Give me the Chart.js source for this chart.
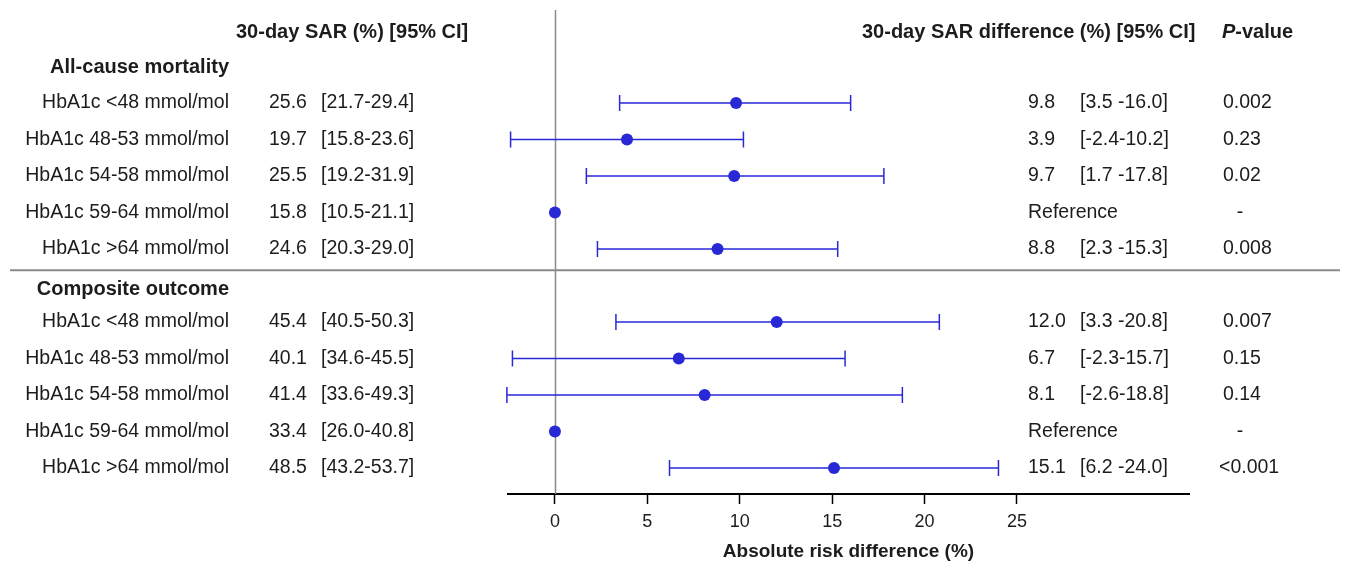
<!DOCTYPE html>
<html><head><meta charset="utf-8">
<script src="https://cdn.jsdelivr.net/npm/chart.js@4.4.1/dist/chart.umd.min.js"></script>
<style>html,body{margin:0;padding:0;background:#fff;overflow:hidden}#wrap{width:1351px;height:562px;position:relative}</style>
</head><body><div id="wrap"><canvas id="c" width="1351" height="562"></canvas></div>
<script>
const groupTitles = ['All-cause mortality', 'Composite outcome'];
const rowLabels = ['HbA1c <48 mmol/mol','HbA1c 48-53 mmol/mol','HbA1c 54-58 mmol/mol','HbA1c 59-64 mmol/mol','HbA1c >64 mmol/mol',
                   'HbA1c <48 mmol/mol','HbA1c 48-53 mmol/mol','HbA1c 54-58 mmol/mol','HbA1c 59-64 mmol/mol','HbA1c >64 mmol/mol'];
const sarText = ['25.6','19.7','25.5','15.8','24.6','45.4','40.1','41.4','33.4','48.5'];
const sarCI = ['[21.7-29.4]','[15.8-23.6]','[19.2-31.9]','[10.5-21.1]','[20.3-29.0]','[40.5-50.3]','[34.6-45.5]','[33.6-49.3]','[26.0-40.8]','[43.2-53.7]'];
const diffEst = [9.8, 3.9, 9.7, 0, 8.8, 12.0, 6.7, 8.1, 0, 15.1];
const diffLo = [3.5, -2.4, 1.7, null, 2.3, 3.3, -2.3, -2.6, null, 6.2];
const diffHi = [16.0, 10.2, 17.8, null, 15.3, 20.8, 15.7, 18.8, null, 24.0];
const diffText = ['9.8','3.9','9.7','Reference','8.8','12.0','6.7','8.1','Reference','15.1'];
const diffCI = ['[3.5 -16.0]','[-2.4-10.2]','[1.7 -17.8]','','[2.3 -15.3]','[3.3 -20.8]','[-2.3-15.7]','[-2.6-18.8]','','[6.2 -24.0]'];
const pValues = ['0.002','0.23','0.02','-','0.008','0.007','0.15','0.14','-','<0.001'];
const rowPos = [0, 1, 2, 3, 4, 6, 7, 8, 9, 10];
const groupPos = [-0.96, 5.12];
const xTicks = [0, 5, 10, 15, 20, 25];

const FAM = '"Liberation Sans", Arial, sans-serif';
const BLUE = 'rgb(40,40,215)';
const TXT = '#1c1c1c';
const GREY = '#8a8a8a';

const forestPlugin = {
  id: 'forest',
  beforeDatasetsDraw(chart) {
    const ctx = chart.ctx, xs = chart.scales.x, ys = chart.scales.y, ca = chart.chartArea;
    ctx.save();
    ctx.strokeStyle = GREY; ctx.lineWidth = 1.5;
    const x0 = Math.round(xs.getPixelForValue(0)) + 0.5;
    ctx.beginPath(); ctx.moveTo(x0, ca.top); ctx.lineTo(x0, ca.bottom); ctx.stroke();
    ctx.lineWidth = 2;
    const ySep = ys.getPixelForValue(4.58);
    ctx.beginPath(); ctx.moveTo(10, ySep); ctx.lineTo(1340, ySep); ctx.stroke();
    ctx.strokeStyle = BLUE; ctx.lineWidth = 1.5;
    for (let i = 0; i < diffEst.length; i++) {
      if (diffLo[i] === null) continue;
      const y = ys.getPixelForValue(rowPos[i]);
      const a = xs.getPixelForValue(diffLo[i]), b = xs.getPixelForValue(diffHi[i]);
      ctx.beginPath();
      ctx.moveTo(a, y); ctx.lineTo(b, y);
      ctx.moveTo(a, y - 8); ctx.lineTo(a, y + 8);
      ctx.moveTo(b, y - 8); ctx.lineTo(b, y + 8);
      ctx.stroke();
    }
    ctx.restore();
  },
  afterDraw(chart) {
    const ctx = chart.ctx, ys = chart.scales.y;
    ctx.save();
    ctx.fillStyle = TXT;
    ctx.textBaseline = 'middle';
    const yHead = ys.getPixelForValue(-1.92);
    ctx.font = 'bold 20px ' + FAM;
    ctx.textAlign = 'left';
    ctx.fillText('30-day SAR (%) [95% CI]', 236, yHead);
    ctx.fillText('30-day SAR difference (%) [95% CI]', 862, yHead);
    ctx.font = 'italic bold 20px ' + FAM;
    ctx.fillText('P', 1222, yHead);
    const pw = ctx.measureText('P').width;
    ctx.font = 'bold 20px ' + FAM;
    ctx.fillText('-value', 1222 + pw, yHead);
    ctx.textAlign = 'right';
    groupTitles.forEach((t, g) => ctx.fillText(t, 229, ys.getPixelForValue(groupPos[g])));
    ctx.font = '19.5px ' + FAM;
    for (let i = 0; i < rowLabels.length; i++) {
      const y = ys.getPixelForValue(rowPos[i]);
      ctx.textAlign = 'right';
      ctx.fillText(rowLabels[i], 229, y);
      ctx.textAlign = 'left';
      ctx.fillText(sarText[i], 269, y);
      ctx.fillText(sarCI[i], 321, y);
      ctx.fillText(diffText[i], 1028, y);
      if (diffCI[i]) ctx.fillText(diffCI[i], 1080, y);
      if (pValues[i] === '-') { ctx.textAlign = 'center'; ctx.fillText('-', 1240, y); }
      else ctx.fillText(pValues[i], pValues[i].startsWith('<') ? 1219 : 1223, y);
    }
    ctx.restore();
  }
};

new Chart(document.getElementById('c').getContext('2d'), {
  type: 'scatter',
  data: { datasets: [{
    data: diffEst.map((v, i) => ({ x: v, y: rowPos[i] })),
    pointRadius: 6, pointHoverRadius: 6,
    pointBackgroundColor: BLUE, pointBorderColor: BLUE, pointBorderWidth: 0
  }] },
  options: {
    responsive: false, animation: false, devicePixelRatio: 1,
    layout: { padding: { left: 508, right: 162, top: 10, bottom: 0 } },
    plugins: { legend: { display: false }, tooltip: { enabled: false } },
    scales: {
      x: {
        type: 'linear', min: -2.54, max: 34.31,
        afterBuildTicks: s => { s.ticks = xTicks.map(v => ({ value: v })); },
        afterFit: s => { s.height = 68; },
        grid: { display: true, drawOnChartArea: false, drawTicks: true, tickLength: 10, tickColor: '#000', tickWidth: 1.5 },
        border: { display: true, color: '#000', width: 2 },
        ticks: { font: { family: FAM, size: 18 }, color: TXT, padding: 7, autoSkip: false, maxRotation: 0 },
        title: { display: true, text: 'Absolute risk difference (%)', color: TXT,
                 font: { family: FAM, size: 19, weight: 'bold', lineHeight: 1.1 }, padding: { top: 0, bottom: 0 } }
      },
      y: { type: 'linear', min: -2.548, max: 10.712, reverse: true, display: false }
    }
  },
  plugins: [forestPlugin]
});
</script></body></html>
